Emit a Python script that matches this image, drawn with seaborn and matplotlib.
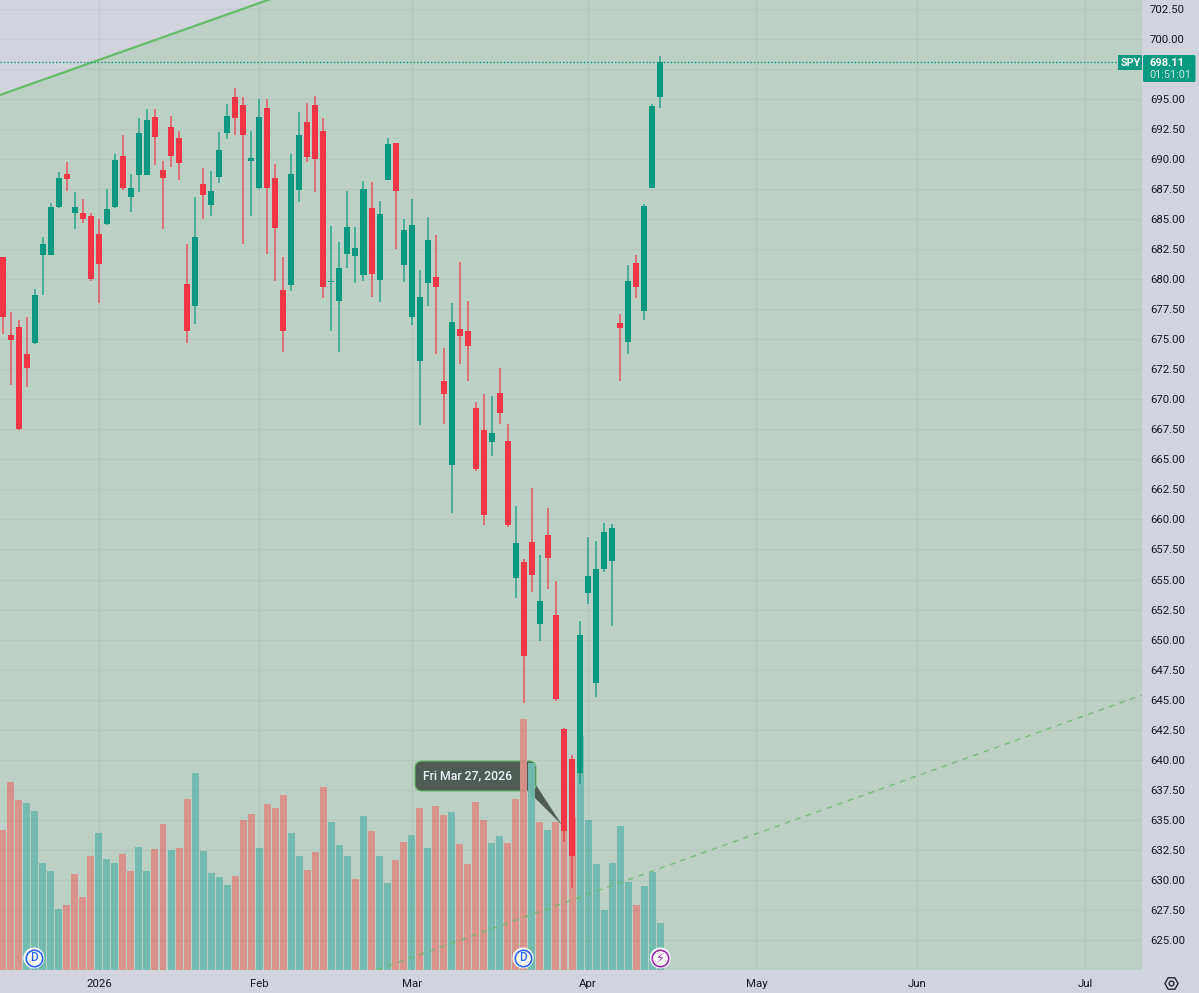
import numpy as np
import pandas as pd
import matplotlib.pyplot as plt
import seaborn as sns
from matplotlib.patches import FancyBboxPatch, Polygon, Rectangle
from matplotlib.ticker import FuncFormatter
from matplotlib.transforms import Affine2D, blended_transform_factory

# SPY daily candles
opens = [681.85, 675.36, 676.02, 673.78, 674.69, 682.02, 682.02, 686.02, 688.76, 685.52,
         685.52, 685.27, 683.77, 684.60, 686.02, 690.26, 686.85, 688.68, 688.68, 693.51,
         689.10, 692.68, 691.76, 679.60, 677.77, 687.93, 686.18, 688.51, 692.18, 695.17,
         694.51, 689.85, 687.60, 694.26, 688.43, 679.10, 679.52, 687.43, 693.09, 694.51,
         692.34, 679.77, 678.19, 682.10, 681.94, 680.35, 685.93, 679.94, 688.26, 691.34,
         681.19, 676.86, 673.19, 679.69, 680.19, 671.53, 664.53, 675.86, 675.69, 669.28,
         667.45, 666.45, 670.53, 666.53, 655.13, 656.46, 658.12, 651.30, 658.71, 652.05,
         642.55, 640.06, 638.89, 653.88, 646.38, 655.87, 656.54, 676.36, 674.78, 681.35,
         677.36, 687.60, 695.17]
closes = [676.86, 674.94, 667.53, 672.61, 678.69, 682.93, 686.02, 688.43, 688.35, 686.02,
          685.02, 680.02, 681.27, 685.85, 689.93, 687.60, 687.60, 692.18, 693.26, 691.84,
          688.43, 690.26, 689.68, 675.69, 683.52, 687.01, 687.35, 690.76, 693.59, 693.43,
          692.01, 690.09, 693.51, 687.60, 684.27, 675.69, 688.76, 692.01, 690.18, 690.01,
          679.35, 679.85, 680.94, 684.35, 682.60, 687.51, 680.44, 685.43, 691.26, 687.35,
          684.10, 684.52, 678.52, 683.27, 679.35, 670.45, 676.44, 675.27, 674.44, 664.20,
          660.37, 667.20, 668.86, 659.54, 658.04, 648.63, 655.38, 653.21, 656.79, 645.05,
          634.06, 631.98, 650.38, 655.29, 655.87, 658.96, 659.29, 675.94, 679.85, 679.35,
          686.10, 694.42, 698.11]
highs = [681.85, 677.27, 676.61, 676.86, 679.19, 683.52, 686.35, 688.93, 689.76, 687.26,
         686.68, 685.52, 685.02, 687.51, 690.43, 692.01, 688.76, 693.43, 694.17, 694.17,
         689.85, 693.59, 692.34, 682.93, 686.85, 689.26, 689.01, 692.26, 694.59, 695.92,
         695.17, 692.34, 695.01, 695.01, 689.60, 681.85, 690.43, 693.92, 694.67, 695.26,
         693.43, 684.43, 683.10, 687.35, 684.35, 688.18, 688.10, 686.51, 691.76, 691.34,
         685.02, 686.68, 680.77, 685.18, 683.68, 674.28, 678.02, 681.44, 678.19, 669.78,
         670.45, 670.28, 672.61, 667.95, 661.12, 656.71, 662.62, 657.04, 660.95, 654.88,
         642.64, 640.39, 651.55, 658.54, 658.21, 659.71, 659.62, 677.11, 681.19, 682.02,
         686.26, 694.59, 698.59]
lows = [675.44, 671.19, 667.45, 671.03, 674.61, 678.69, 682.02, 685.93, 687.35, 684.18,
        684.68, 679.85, 678.02, 684.52, 685.93, 687.43, 685.60, 687.26, 688.68, 689.51,
        684.18, 689.35, 688.26, 674.69, 676.27, 685.02, 685.27, 688.01, 691.68, 692.01,
        682.93, 685.27, 687.51, 682.10, 679.85, 673.94, 679.02, 686.43, 689.76, 687.26,
        678.44, 675.69, 673.94, 680.94, 679.69, 679.85, 678.52, 678.11, 688.26, 682.52,
        679.77, 676.19, 667.86, 677.77, 673.78, 667.95, 660.54, 672.94, 671.53, 664.03,
        659.54, 665.28, 667.95, 659.37, 653.46, 644.72, 653.96, 649.88, 654.21, 644.88,
        633.15, 629.32, 637.97, 652.96, 645.22, 655.63, 651.13, 671.53, 673.78, 678.44,
        676.61, 687.60, 694.26]
# volume in millions of shares
volumes = [70, 94, 85, 83.5, 79.5, 53.5, 49.5, 30.5, 32.5, 48,
           36.5, 57, 68.5, 55.5, 53.5, 58, 49.5, 61.5, 49.5, 60.5,
           73, 60, 61, 85.5, 98.5, 59.5, 48.5, 46.5, 42.5, 47,
           75, 78, 61, 83, 81, 87.5, 68.5, 57, 50, 59,
           91.5, 74, 62.5, 57, 45.5, 77, 69.5, 57, 43.5, 55,
           64, 67.5, 81, 61, 82, 77.5, 79, 63, 53, 84,
           75, 63.5, 67, 63.5, 85.5, 125.5, 103.5, 74, 70, 74,
           79.5, 76.5, 117, 75, 53, 30, 53.5, 72, 44, 32.5,
           42, 49, 23.5]
vol_dirs = list("dddaaaaadddd" "aaadd" "aadd" "add" "aaaaa" "ddd" "a" "ddd" "aa" "ddd"
                "aaa" "d" "a" "d" "aa" "dd" "a" "d" "a" "dd" "a" "dddd" "aa" "ddd"
                "a" "d" "a" "ddd" "aaaaaaa" "d" "aaa")
month_idx = [12, 32, 51, 73, 94, 114, 135]
month_labels = ["2026", "Feb", "Mar", "Apr", "May", "Jun", "Jul"]
price_ticks = np.arange(625, 703, 2.5)
hidden_tick = 697.5  # sits under the last price tag
last_price = 698.11
dividend_idx = [4, 65]
earnings_idx = [82]

GREEN = "#089981"
RED = "#F23645"
PANE = "#D1D4DC"
CHANNEL = "#BCD0C5"

sns.set_theme(style="white")
plt.rcParams["font.family"] = ["Roboto", "DejaVu Sans"]

idx = np.arange(len(opens))
o, c, h, l = map(np.array, (opens, closes, highs, lows))
colors = [GREEN if b >= a else RED for a, b in zip(o, c)]
df_vol = pd.DataFrame({"i": idx, "vol": volumes, "dir": vol_dirs})

fig = plt.figure(figsize=(11.99, 9.93), dpi=100, facecolor=PANE)
ax_vol = fig.add_axes([0, 23 / 993, 1142 / 1199, 970 / 993], facecolor=PANE)
ax = ax_vol.twinx()
ax.set_zorder(ax_vol.get_zorder() + 1)
ax.patch.set_visible(False)

# screen pixels, y going down, for the tag and tooltip furniture
px = Affine2D().scale(1, -1).translate(0, 993)

sns.barplot(data=df_vol, x="i", y="vol", hue="dir", palette={"a": "#72BBAF", "d": "#D8918A"},
            native_scale=True, dodge=False, width=0.87, errorbar=None, saturation=1,
            alpha=0.97, linewidth=0, legend=False, ax=ax_vol, zorder=3)

ax_vol.set_xlim(-0.324, 142.07)
ax_vol.set_ylim(0, 485)
ax.set_ylim(622.49, 703.25)

# channel fill below the upper trend line, under the volume bars
x_chan = np.array([-0.324, 142.07])
upper = np.array([695.34, 729.06])
ax_vol.fill_between(x_chan, upper, 622.49, color=CHANNEL, lw=0, zorder=0, transform=ax.transData)

# tooltip sits behind the volume bars
ax_vol.add_patch(Polygon([(522, 785), (536, 785), (562, 825)], closed=True, fc="#4F5C56",
                         ec="none", transform=px, zorder=2))
ax_vol.add_patch(FancyBboxPatch((420, 766), 111, 20, boxstyle="round,pad=5,rounding_size=7",
                                fc="#4F5C56", ec="#66BB6A", lw=0.8, transform=px, zorder=2))
ax_vol.text(468, 776, "Fri Mar 27, 2026", color="#F0F3FA", fontsize=8.8, fontweight="medium",
            ha="center", va="center", transform=px, zorder=2.5)

ax.plot(x_chan, upper, color="#66BB6A", lw=1.6, zorder=2)
ax.plot([46.7, 142.07], [622.49, 645.38], color="#66BB6A", lw=1, ls=(0, (4, 4)), alpha=0.8, zorder=2)
ax.axhline(last_price, color=GREEN, lw=1, ls=(0, (1, 1.5)), zorder=2)

ax.vlines(idx, l, h, colors=colors, lw=1.1, alpha=0.8, zorder=4)
ax.bar(idx, np.abs(c - o), bottom=np.minimum(o, c), width=0.75, color=colors, lw=0, zorder=5)

ax.set_yticks(price_ticks)
ax.yaxis.set_major_formatter(FuncFormatter(lambda v, _: "" if v == hidden_tick else f"{v:.2f}"))
ax.tick_params(axis="y", length=0, pad=5.8, labelsize=8.2, labelcolor="#131722")
ax.grid(axis="y", color="black", alpha=0.035, lw=1)
ax.set_axisbelow(True)

ax_vol.set_xticks(month_idx, month_labels)
ax_vol.set_yticks([])
ax_vol.set_xlabel("")
ax_vol.set_ylabel("")
ax_vol.tick_params(axis="x", length=0, pad=6.3, labelsize=8.2, labelcolor="#131722")
for m in month_idx:
    ax.axvline(m, color="black", alpha=0.035, lw=1, zorder=1)
for a in (ax, ax_vol):
    sns.despine(ax=a, left=True, right=True, top=True, bottom=True)

# event badges along the bottom edge of the pane
badge = blended_transform_factory(ax.transData, ax.transAxes)
for i in dividend_idx:
    ax.scatter(i - 0.1, 0.0124, s=228, fc="white", ec="none", transform=badge, zorder=6, clip_on=False)
    ax.scatter(i - 0.1, 0.0124, s=140, fc="white", ec="#2962FF", lw=1.2, transform=badge, zorder=6)
    ax.text(i - 0.1, 0.0124, "D", color="#2962FF", fontsize=8.5, fontweight="medium", ha="center",
            va="center", transform=badge, zorder=7)
for i in earnings_idx:
    ax.scatter(i, 0.0124, s=228, fc="white", ec="none", transform=badge, zorder=6, clip_on=False)
    ax.scatter(i, 0.0124, s=140, fc="white", ec="#9C27B0", lw=1.2, transform=badge, zorder=6)
    ax.text(i, 0.0124, "\u26A1", color="#9C27B0", fontsize=9, ha="center", va="center",
            family="DejaVu Sans", transform=badge, zorder=7)

# last price tags on the scale
ax.add_patch(Rectangle((1118, 55), 24, 15, fc=GREEN, ec="none", transform=px, clip_on=False, zorder=8))
ax.add_patch(FancyBboxPatch((1144, 56), 50.5, 25, boxstyle="round,pad=1,rounding_size=1.5", fc=GREEN,
                            ec="none", transform=px, clip_on=False, zorder=8))
ax.text(1130.5, 62.5, "SPY", color="white", fontsize=7.8, fontweight="bold", ha="center", va="center",
        transform=px, clip_on=False, zorder=9)
ax.text(1149.5, 62.5, f"{last_price:.2f}", color="white", fontsize=8, fontweight="bold", ha="left", va="center",
        transform=px, clip_on=False, zorder=9)
ax.text(1149.5, 75.5, "01:51:01", color="#CDEBE5", fontsize=7.8, ha="left", va="center",
        transform=px, clip_on=False, zorder=9)

# settings gear in the corner
ax.plot([1171], [982.5], marker="H", ms=9.5, mfc="none", mec="#131722", mew=0.9, transform=px, clip_on=False)
ax.plot([1171], [982.5], marker="o", ms=3.5, mfc="none", mec="#131722", mew=0.9, transform=px, clip_on=False)

fig.savefig("out.png", dpi=100, facecolor=fig.get_facecolor())
